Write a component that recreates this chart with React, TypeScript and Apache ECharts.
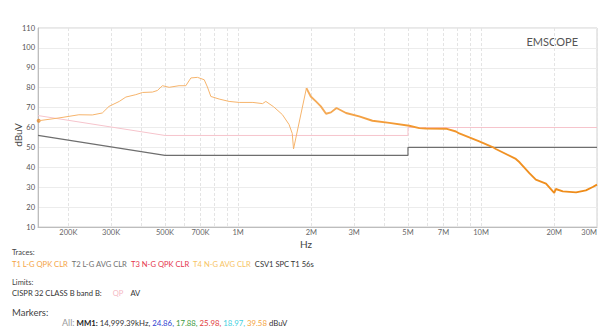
import React, { useEffect, useRef } from 'react';
import * as echarts from 'echarts';

// Trace T1 (frequency in MHz, level in dBuV)
const traceFreqMHz = [
  0.151, 0.183, 0.221, 0.251, 0.276, 0.294, 0.324, 0.345, 0.379, 0.404,
  0.444, 0.465, 0.488, 0.52, 0.571, 0.609, 0.639, 0.68, 0.725, 0.747,
  0.772, 0.835, 0.918, 1.01, 1.15, 1.26, 1.3, 1.4, 1.52, 1.62,
  1.67, 1.69, 1.91,
];
const traceLevel = [
  63.4, 64.8, 66.4, 66.3, 67.3, 70.6, 73.1, 75.3, 76.5, 77.6,
  77.8, 78.6, 81.0, 80.2, 81.0, 81.0, 84.9, 85.2, 84.0, 80.4,
  75.6, 74.3, 73.1, 72.6, 72.6, 72.0, 73.1, 70.4, 66.5, 61.5,
  57.0, 49.2, 79.8,
];
const traceHighFreqMHz = [
  1.91, 1.99, 2.09, 2.19, 2.3, 2.41, 2.54, 2.78, 3.15, 3.57,
  4.19, 5.06, 5.57, 5.93, 7.17, 7.88, 8.13, 9.83, 11.15, 11.5,
  13.9, 14.4, 15.8, 16.8, 18.5, 20.0, 20.3, 21.7, 24.6, 27.0,
  28.8, 30.0,
];
const traceHighLevel = [
  79.8, 75.6, 73.1, 70.6, 66.9, 67.6, 69.8, 67.3, 65.6, 63.4,
  62.3, 60.9, 59.7, 59.5, 59.4, 58.0, 57.0, 53.0, 50.2, 49.2,
  44.2, 42.5, 37.1, 33.8, 31.8, 27.1, 29.1, 27.9, 27.4, 28.4,
  30.1, 31.3,
];

// Limits CISPR 32 class B
const qpLimitFreqMHz = [0.15, 0.5, 5, 5, 30];
const qpLimitLevel = [66, 56, 56, 60, 60];
const avLimitFreqMHz = [0.15, 0.5, 5, 5, 30];
const avLimitLevel = [56, 46, 46, 50, 50];

// Marker dot
const markerFreqMHz = [0.151];
const markerLevel = [63.4];

// Axis ticks
const tickFreqMHz = [0.2, 0.3, 0.5, 0.7, 1, 2, 3, 5, 7, 10, 20, 30];
const tickLabels = ['200K', '300K', '500K', '700K', '1M', '2M', '3M', '5M', '7M', '10M', '20M', '30M'];
const gridFreqMHz = [
  0.2, 0.3, 0.4, 0.5, 0.6, 0.7, 0.8, 0.9,
  1, 2, 3, 4, 5, 6, 7, 8, 9, 10, 20, 30,
];

// Legend texts
const traceNames = ['T1 L-G QPK CLR', 'T2 L-G AVG CLR', 'T3 N-G QPK CLR', 'T4 N-G AVG CLR', 'CSV1 SPC T1 56s'];
const markerValues = ['24.86', '17.88', '25.98', '18.97', '39.58'];

const FONT = 'Lato, "Noto Sans", sans-serif';
const lg = (f: number) => Math.log10(f);

export default function App() {
  const ref = useRef<HTMLDivElement>(null);
  useEffect(() => {
    if (!ref.current) return;
    const chart = echarts.init(ref.current, undefined, { renderer: 'svg' });
    const lowData = traceFreqMHz.map((f, i) => [lg(f), traceLevel[i]]);
    const highData = traceHighFreqMHz.map((f, i) => [lg(f), traceHighLevel[i]]);
    const qpData = qpLimitFreqMHz.map((f, i) => [lg(f), qpLimitLevel[i]]);
    const avData = avLimitFreqMHz.map((f, i) => [lg(f), avLimitLevel[i]]);
    const mkData = markerFreqMHz.map((f, i) => [lg(f), markerLevel[i]]);

    chart.setOption({
      animation: false,
      grid: {
        left: 38, right: 2, top: 28, height: 199,
        show: true, borderColor: '#d0d0d0', borderWidth: 1,
      },
      xAxis: {
        type: 'value',
        min: lg(0.15),
        max: lg(30),
        axisLine: { show: true, onZero: false, lineStyle: { color: '#bdbdbd' } },
        axisTick: { show: false, customValues: gridFreqMHz.map(lg) },
        splitLine: { show: true, lineStyle: { color: '#e4e4e4', type: [3, 2], width: 1 } },
        axisLabel: {
          customValues: tickFreqMHz.map(lg),
          formatter: (v: number) => {
            let best = 0;
            tickFreqMHz.forEach((f, i) => {
              if (Math.abs(lg(f) - v) < Math.abs(lg(tickFreqMHz[best]) - v)) best = i;
            });
            return tickLabels[best];
          },
          fontSize: 7.5, color: '#666', fontFamily: FONT, margin: 1,
          alignMaxLabel: 'right',
        },
      },
      yAxis: {
        type: 'value',
        min: 10, max: 110, interval: 10,
        axisLine: { show: true, onZero: false, lineStyle: { color: '#bdbdbd' } },
        axisTick: { show: false },
        splitLine: { show: true, lineStyle: { color: '#ececec', width: 1 } },
        axisLabel: { fontSize: 7.5, color: '#555', fontFamily: FONT, margin: 3 },
      },
      series: [
        {
          type: 'line', data: avData, symbol: 'none',
          lineStyle: { color: '#6e6e6e', width: 1.2 },
        },
        {
          type: 'line', data: qpData, symbol: 'none',
          lineStyle: { color: '#f6c4cc', width: 1 },
        },
        {
          type: 'line', data: lowData, symbol: 'none',
          lineStyle: { color: '#f6b46c', width: 1 },
        },
        {
          type: 'line', data: highData, symbol: 'none',
          lineStyle: {
            width: 1.9,
            color: new echarts.graphic.LinearGradient(0, 0, 1, 0, [
              { offset: 0, color: '#f5ae5f' },
              { offset: 0.3, color: '#f39a34' },
              { offset: 1, color: '#ee8a16' },
            ]),
          },
        },
        {
          type: 'scatter', data: mkData, symbolSize: 4,
          itemStyle: { color: '#e38a2c' },
        },
      ],
      graphic: [
        {
          type: 'text', x: 578, y: 41,
          style: { text: 'EMSCOPE', font: `11px ${FONT}`, fill: '#555', align: 'right', verticalAlign: 'middle' },
        },
        {
          type: 'text', x: 18, y: 135, rotation: Math.PI / 2,
          style: { text: 'dBuV', font: `10px ${FONT}`, fill: '#444', align: 'center', verticalAlign: 'middle' },
        },
        {
          type: 'text', x: 300, y: 244,
          style: { text: 'Hz', font: `10px ${FONT}`, fill: '#444', align: 'left', verticalAlign: 'middle' },
        },
        {
          type: 'text', x: 12, y: 252.5,
          style: { text: 'Traces:', font: `7.5px ${FONT}`, fill: '#444', verticalAlign: 'middle' },
        },
        {
          type: 'text', x: 12, y: 264,
          style: {
            text:
              `{a|${traceNames[0]}}  {b|${traceNames[1]}}  {c|${traceNames[2]}}  {d|${traceNames[3]}}  {e|${traceNames[4]}}`,
            font: `7.5px ${FONT}`, verticalAlign: 'middle',
            rich: {
              a: { fill: '#f4a445', fontSize: 7.6, fontFamily: FONT },
              b: { fill: '#707070', fontSize: 7.6, fontFamily: FONT },
              c: { fill: '#e5364c', fontSize: 7.6, fontFamily: FONT },
              d: { fill: '#f7c464', fontSize: 7.6, fontFamily: FONT },
              e: { fill: '#333', fontSize: 7.6, fontFamily: FONT },
            },
          },
        },
        {
          type: 'text', x: 12, y: 282.5,
          style: { text: 'Limits:', font: `7.5px ${FONT}`, fill: '#444', verticalAlign: 'middle' },
        },
        {
          type: 'text', x: 12, y: 293,
          style: {
            text: '{n|CISPR 32 CLASS B band B:}{q|QP}{n|AV}',
            font: `7.6px ${FONT}`, verticalAlign: 'middle',
            rich: {
              n: { fill: '#333', fontSize: 7.6, fontFamily: FONT },
              q: { fill: '#f5b8c4', fontSize: 7.6, fontFamily: FONT, padding: [0, 7, 0, 11] },
            },
          },
        },
        {
          type: 'text', x: 12, y: 312,
          style: { text: 'Markers:', font: `9.5px ${FONT}`, fill: '#444', verticalAlign: 'middle' },
        },
        {
          type: 'text', x: 62, y: 322.5,
          style: {
            text:
              `{all|All:} {mm|MM1:} {n|14,999.39kHz,} {v1|${markerValues[0]},} {v2|${markerValues[1]},} {v3|${markerValues[2]},} {v4|${markerValues[3]},} {v5|${markerValues[4]}} {n|dBuV}`,
            font: `7.8px ${FONT}`, verticalAlign: 'middle',
            rich: {
              all: { fill: '#9a9a9a', fontSize: 9, fontFamily: FONT },
              mm: { fill: '#222', fontSize: 7.8, fontWeight: 'bold', fontFamily: FONT },
              n: { fill: '#333', fontSize: 7.8, fontFamily: FONT },
              v1: { fill: '#2f3fd0', fontSize: 7.8, fontFamily: FONT },
              v2: { fill: '#3c9a3c', fontSize: 7.8, fontFamily: FONT },
              v3: { fill: '#e23a3a', fontSize: 7.8, fontFamily: FONT },
              v4: { fill: '#3fd0e0', fontSize: 7.8, fontFamily: FONT },
              v5: { fill: '#f5a33a', fontSize: 7.8, fontFamily: FONT },
            },
          },
        },
      ],
    });
    return () => chart.dispose();
  }, []);

  return (
    <div
      ref={ref}
      style={{ position: 'fixed', left: 0, top: 0, width: 600, height: 329, background: '#fff' }}
    />
  );
}
